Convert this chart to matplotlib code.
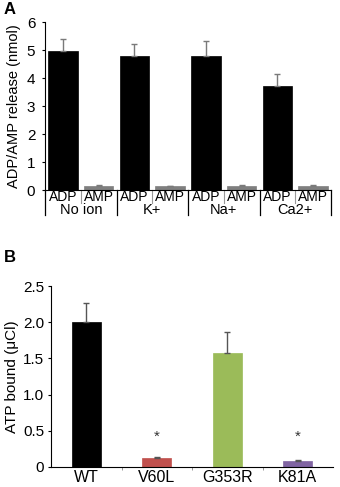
import numpy as np
import matplotlib
matplotlib.use('Agg')
import matplotlib.pyplot as plt
from matplotlib.transforms import blended_transform_factory

plt.rcParams['font.family'] = ['Liberation Sans', 'DejaVu Sans']

# panel A data
groups = ['No ion', 'K+', 'Na+', 'Ca2+']
kinds = ['ADP', 'AMP']
adp = [4.95, 4.80, 4.78, 3.70]
adp_err = [0.43, 0.42, 0.54, 0.45]
amp = [0.15, 0.13, 0.16, 0.15]
amp_err = [0.03, 0.03, 0.03, 0.03]

# panel B data
mutants = ['WT', 'V60L', 'G353R', 'K81A']
atp = [2.00, 0.12, 1.57, 0.08]
atp_err = [0.26, 0.02, 0.30, 0.01]
atp_colors = ['#000000', '#c0504d', '#9bbb59', '#8064a2']
signif = [False, True, False, True]

fig = plt.figure(figsize=(3.4, 4.87), dpi=100)

# ---- A ----
axA = fig.add_axes([45/340, 1-190/487, 286/340, 168/487])
vals, errs, cols = [], [], []
for i in range(len(groups)):
    vals += [adp[i], amp[i]]
    errs += [adp_err[i], amp_err[i]]
    cols += ['black', '#7f7f7f']
x = np.arange(len(vals))
axA.bar(x, vals, width=0.82, color=cols, edgecolor=cols, linewidth=0.5)
axA.errorbar(x, vals, yerr=[np.zeros(len(errs)), errs], fmt='none',
             ecolor='#7a7a7a', elinewidth=1, capsize=2, capthick=1)
axA.set_xlim(-0.5, len(vals) - 0.5)
axA.set_ylim(0, 6)
axA.set_yticks(range(0, 7))
axA.set_xticks([])
axA.tick_params(axis='y', labelsize=11, length=2.5, width=0.8, pad=4.5)
for s in ['top', 'right']:
    axA.spines[s].set_visible(False)
axA.spines['bottom'].set_linewidth(0.8)
axA.spines['left'].set_linewidth(0.8)
axA.set_ylabel('ADP/AMP release (nmol)', fontsize=10.5, labelpad=4)

tr = blended_transform_factory(axA.transData, axA.transAxes)
for b in range(len(vals) + 1):
    xb = b - 0.5
    if b % 2 == 0:
        axA.plot([xb, xb], [0, -0.15], transform=tr, color='black', lw=0.9, clip_on=False)
    else:
        axA.plot([xb, xb], [0, -0.075], transform=tr, color='#999999', lw=0.8, clip_on=False)
for i in range(len(vals)):
    axA.text(i, -0.042, kinds[i % 2], transform=tr, ha='center', va='center', fontsize=10)
for g in range(len(groups)):
    axA.text(2*g + 0.5, -0.12, groups[g], transform=tr, ha='center', va='center', fontsize=10.5)

fig.text(4/340, 1-10/487, 'A', fontsize=12, fontweight='bold', va='center')

# ---- B ----
axB = fig.add_axes([51/340, 1-467/487, 282/340, 181/487])
xb = np.arange(len(mutants))
axB.bar(xb, atp, width=0.41, color=atp_colors, edgecolor=atp_colors, linewidth=0.5)
axB.errorbar(xb, atp, yerr=[np.zeros(len(atp_err)), atp_err], fmt='none',
             ecolor='#555555', elinewidth=1, capsize=2, capthick=1)
for i in range(len(mutants)):
    if signif[i]:
        axB.text(xb[i], 0.42, '*', ha='center', va='center', fontsize=11, color='#333333')
axB.set_xlim(-0.5, len(mutants) - 0.5)
axB.set_ylim(0, 2.5)
axB.set_yticks([0, 0.5, 1.0, 1.5, 2.0, 2.5])
axB.set_yticklabels(['0', '0.5', '1.0', '1.5', '2.0', '2.5'])
axB.set_xticks(xb)
axB.set_xticklabels(mutants)
axB.set_xticks(xb[:-1] + 0.5, minor=True)
axB.tick_params(axis='x', which='major', length=0, labelsize=11.5, pad=2)
axB.tick_params(axis='x', which='minor', length=2.5, width=0.6, color='#888888')
axB.tick_params(axis='y', labelsize=11, length=2.5, width=0.8, pad=2.5)
for s in ['top', 'right']:
    axB.spines[s].set_visible(False)
axB.spines['bottom'].set_linewidth(0.8)
axB.spines['left'].set_linewidth(0.8)
axB.set_ylabel('ATP bound (\u03bcCl)', fontsize=11, labelpad=3)

fig.text(4/340, 1-258/487, 'B', fontsize=12, fontweight='bold', va='center')

fig.savefig('out.png', dpi=100)
